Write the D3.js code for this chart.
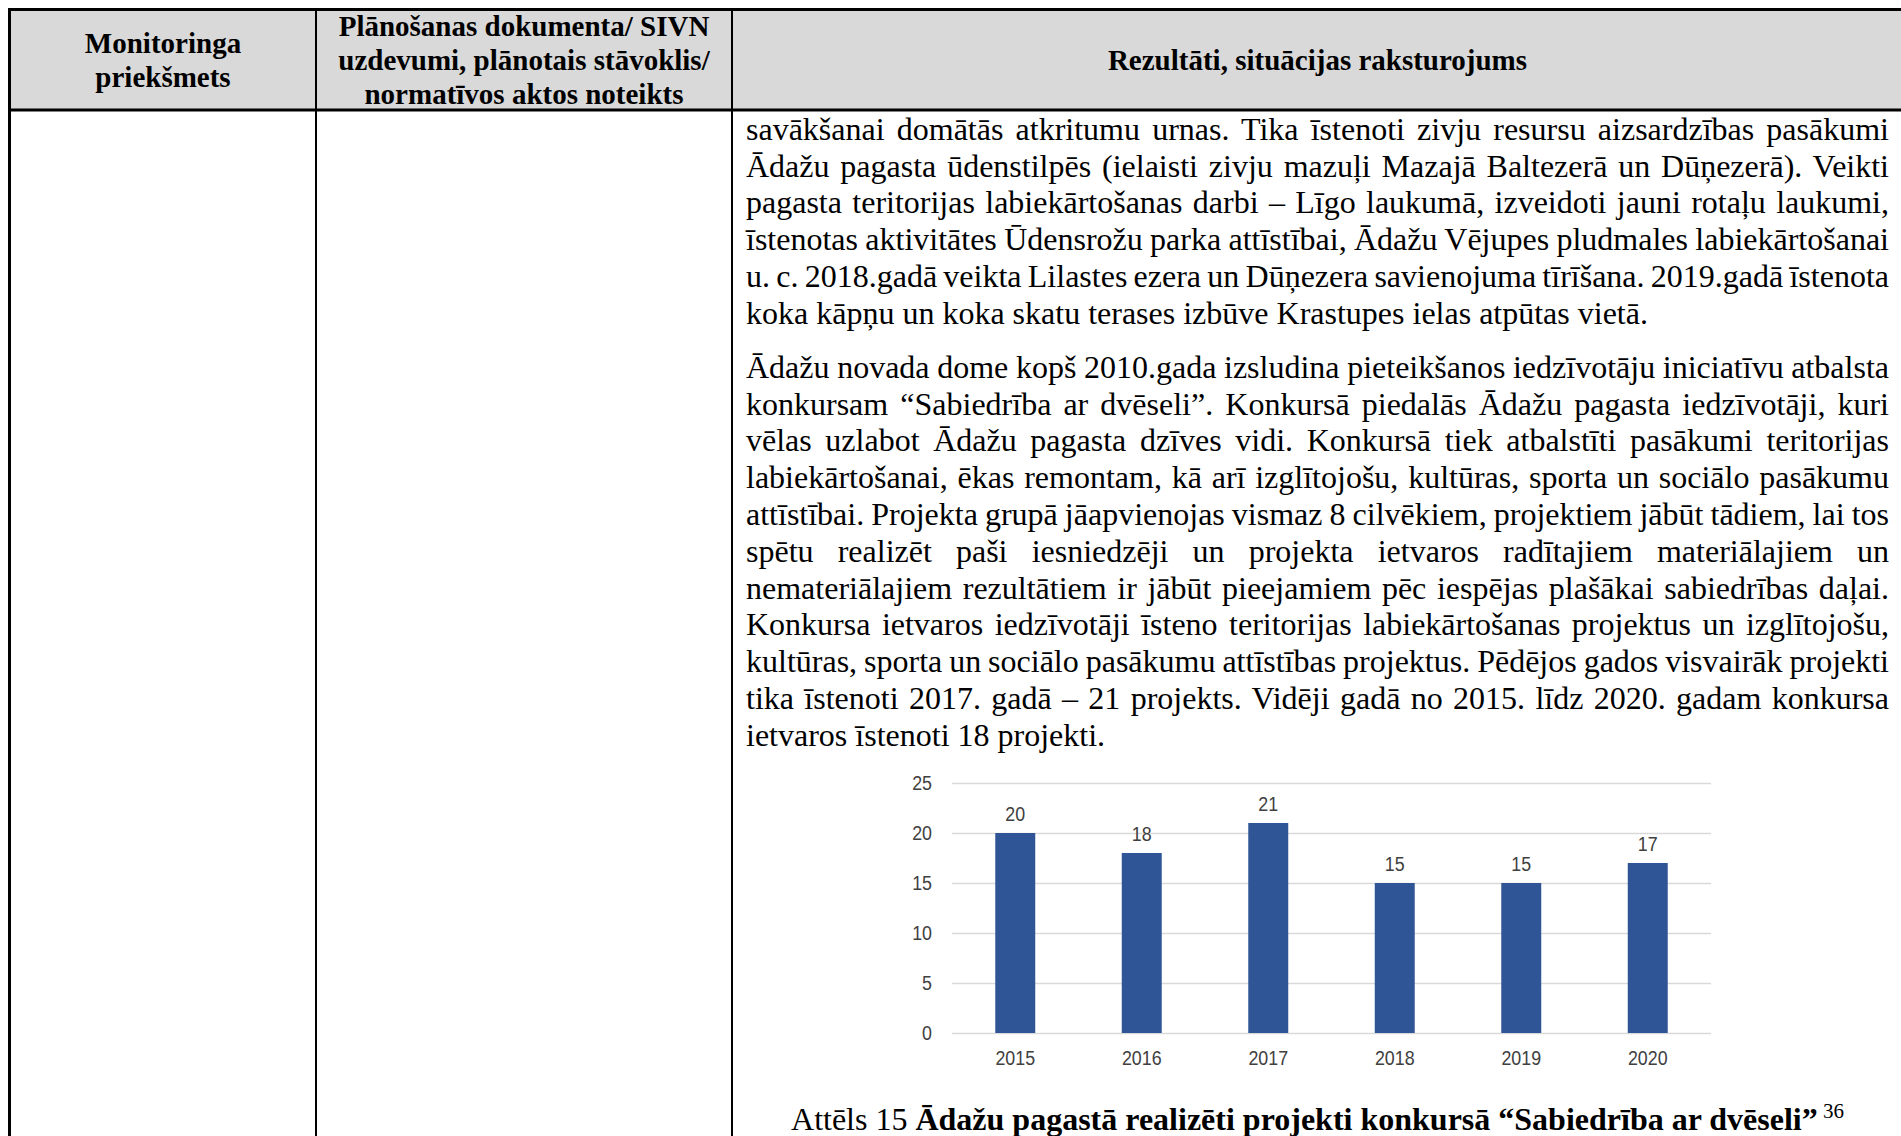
<!DOCTYPE html>
<html>
<head>
<meta charset="utf-8">
<script src="https://cdn.jsdelivr.net/npm/d3@7"></script>
<style>
  body { margin: 0; background: #fff; width: 1901px; height: 1136px; overflow: hidden; position: relative;
         font-family: "Liberation Serif", "Times New Roman", serif; color: #000; }
  svg { position: absolute; left: 0; top: 0; }
  .hd { position: absolute; font-weight: bold; font-size: 29px; line-height: 34px; text-align: center; }
  .ln { position: absolute; left: 746px; width: 1143px; font-size: 32px; line-height: 36.8px;
        white-space: nowrap; text-align: justify; text-align-last: justify; word-spacing: -3px; }
  .ln.last { text-align-last: left; word-spacing: 0; }
  .cap { position: absolute; left: 732px; width: 1171px; top: 1101px; font-size: 32px; line-height: 36.8px;
         text-align: center; white-space: nowrap; }
  .cap sup { font-size: 21px; vertical-align: 12px; line-height: 0; }
</style>
</head>
<body>
<svg id="page" width="1901" height="1136"></svg>
<script>
// chart data
var years = ["2015", "2016", "2017", "2018", "2019", "2020"];
var projects = [20, 18, 21, 15, 15, 17];
var yTicks = [0, 5, 10, 15, 20, 25];

// document text
var para1 = [
  "savākšanai domātās atkritumu urnas. Tika īstenoti zivju resursu aizsardzības pasākumi",
  "Ādažu pagasta ūdenstilpēs (ielaisti zivju mazuļi Mazajā Baltezerā un Dūņezerā). Veikti",
  "pagasta teritorijas labiekārtošanas darbi – Līgo laukumā, izveidoti jauni rotaļu laukumi,",
  "īstenotas aktivitātes Ūdensrožu parka attīstībai, Ādažu Vējupes pludmales labiekārtošanai",
  "u. c. 2018.gadā veikta Lilastes ezera un Dūņezera savienojuma tīrīšana. 2019.gadā īstenota",
  "koka kāpņu un koka skatu terases izbūve Krastupes ielas atpūtas vietā."
];
var para2 = [
  "Ādažu novada dome kopš 2010.gada izsludina pieteikšanos iedzīvotāju iniciatīvu atbalsta",
  "konkursam “Sabiedrība ar dvēseli”. Konkursā piedalās Ādažu pagasta iedzīvotāji, kuri",
  "vēlas uzlabot Ādažu pagasta dzīves vidi. Konkursā tiek atbalstīti pasākumi teritorijas",
  "labiekārtošanai, ēkas remontam, kā arī izglītojošu, kultūras, sporta un sociālo pasākumu",
  "attīstībai. Projekta grupā jāapvienojas vismaz 8 cilvēkiem, projektiem jābūt tādiem, lai tos",
  "spētu realizēt paši iesniedzēji un projekta ietvaros radītajiem materiālajiem un",
  "nemateriālajiem rezultātiem ir jābūt pieejamiem pēc iespējas plašākai sabiedrības daļai.",
  "Konkursa ietvaros iedzīvotāji īsteno teritorijas labiekārtošanas projektus un izglītojošu,",
  "kultūras, sporta un sociālo pasākumu attīstības projektus. Pēdējos gados visvairāk projekti",
  "tika īstenoti 2017. gadā – 21 projekts. Vidēji gadā no 2015. līdz 2020. gadam konkursa",
  "ietvaros īstenoti 18 projekti."
];

var body = d3.select("body");
var svg = d3.select("#page");

// table header background and borders
svg.append("rect").attr("x", 10).attr("y", 10).attr("width", 1891).attr("height", 100).attr("fill", "#d9d9d9");
svg.append("line").attr("x1", 8).attr("x2", 1901).attr("y1", 9.5).attr("y2", 9.5).attr("stroke", "#000").attr("stroke-width", 3);
svg.append("line").attr("x1", 8).attr("x2", 1901).attr("y1", 110).attr("y2", 110).attr("stroke", "#000").attr("stroke-width", 3);
svg.append("line").attr("x1", 9.5).attr("x2", 9.5).attr("y1", 8).attr("y2", 1136).attr("stroke", "#000").attr("stroke-width", 3);
[316, 732].forEach(function(cx) {
  svg.append("line").attr("x1", cx).attr("x2", cx).attr("y1", 9).attr("y2", 1136).attr("stroke", "#000").attr("stroke-width", 2);
});

// header texts
body.append("div").attr("class", "hd").style("left", "10px").style("width", "306px").style("top", "26px")
  .html("Monitoringa<br>priekšmets");
body.append("div").attr("class", "hd").style("left", "316px").style("width", "416px").style("top", "9px")
  .html("Plānošanas dokumenta/ SIVN<br>uzdevumi, plānotais stāvoklis/<br>normatīvos aktos noteikts");
body.append("div").attr("class", "hd").style("left", "732px").style("width", "1171px").style("top", "43px")
  .text("Rezultāti, situācijas raksturojums");

// paragraphs, one div per line to keep the original line breaks
function addPara(lines, top) {
  lines.forEach(function(t, i) {
    body.append("div")
      .attr("class", "ln" + (i === lines.length - 1 ? " last" : ""))
      .style("top", (top + i * 36.8) + "px")
      .text(t);
  });
}
addPara(para1, 110.8);
addPara(para2, 348.8);

// bar chart
var x = d3.scaleBand()
  .domain(years)
  .range([952, 1711])
  .paddingInner(0.684)
  .paddingOuter(0.342);

var y = d3.scaleLinear()
  .domain([0, 25])
  .range([1033, 783]);

// no narrow sans installed: squeeze the labels horizontally
var chartFont = '"Liberation Sans Narrow", "Arial Narrow", "Liberation Sans", Arial, sans-serif';
var squeeze = 0.85;

var gy = svg.append("g")
  .attr("transform", "translate(952,0)")
  .call(d3.axisLeft(y).tickValues(yTicks).tickSize(-759).tickPadding(20));
gy.select(".domain").remove();
gy.selectAll(".tick line").attr("stroke", "#d9d9d9").attr("stroke-width", 1.5);
gy.selectAll(".tick text")
  .attr("x", -20 / squeeze)
  .attr("transform", "scale(" + squeeze + ",1)")
  .attr("font-family", chartFont).attr("font-size", "21px").attr("fill", "#404040");

var gx = svg.append("g")
  .attr("transform", "translate(0,1033)")
  .call(d3.axisBottom(x).tickSize(0).tickPadding(17));
gx.select(".domain").remove();
gx.selectAll(".tick text")
  .attr("transform", "scale(" + squeeze + ",1)")
  .attr("font-family", chartFont).attr("font-size", "21px").attr("fill", "#404040");

svg.selectAll("rect.bar")
  .data(projects)
  .enter()
  .append("rect")
  .attr("class", "bar")
  .attr("x", function(d, i) { return x(years[i]); })
  .attr("y", function(d) { return y(d); })
  .attr("width", x.bandwidth())
  .attr("height", function(d) { return y(0) - y(d); })
  .attr("fill", "#2f5597");

svg.selectAll("g.val")
  .data(projects)
  .enter()
  .append("g")
  .attr("class", "val")
  .attr("transform", function(d, i) {
    return "translate(" + (x(years[i]) + x.bandwidth() / 2) + "," + (y(d) - 12) + ")";
  })
  .append("text")
  .attr("transform", "scale(" + squeeze + ",1)")
  .attr("text-anchor", "middle")
  .attr("font-family", chartFont)
  .attr("font-size", "21px")
  .attr("fill", "#404040")
  .text(function(d) { return d; });

// caption
body.append("div").attr("class", "cap")
  .html("Attēls 15 <b>Ādažu pagastā realizēti projekti konkursā “Sabiedrība ar dvēseli”</b><sup> 36</sup>");
</script>
</body>
</html>
